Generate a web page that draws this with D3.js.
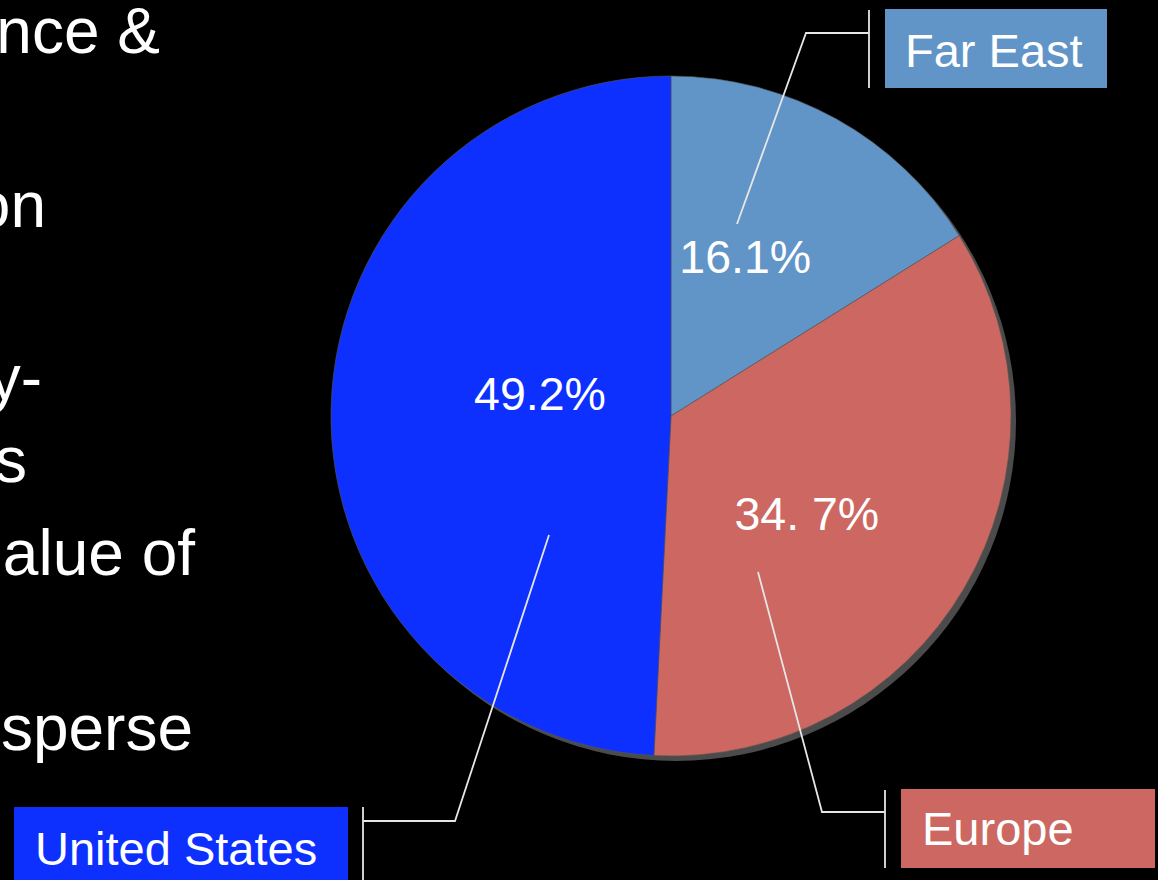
<!DOCTYPE html>
<html>
<head>
<meta charset="utf-8">
<script src="https://cdn.jsdelivr.net/npm/d3@7"></script>
<style>
  html, body { margin: 0; padding: 0; background: #000; overflow: hidden; }
  svg { display: block; }
  text { font-family: "Liberation Sans", Arial, sans-serif; fill: #fff; }
</style>
</head>
<body>
<svg id="chart" width="1158" height="880"></svg>
<script>
// ---- data ----
const categories = ["Far East", "Europe", "United States"];
const values = [16.1, 34.7, 49.2];
const valueLabels = ["16.1%", "34. 7%", "49.2%"];
const colors = ["#6195c7", "#cc6761", "#0d30ff"];
const sideText = ["nce &", "on", "y-", "s", "alue of", "sperse"];

// ---- layout ----
const W = 1158, H = 880;
const cx = 671, cy = 416, R = 340;
const svg = d3.select("#chart");
svg.append("rect").attr("width", W).attr("height", H).attr("fill", "#000");

// slide body text, clipped at the left edge as in the reference
const sideLayout = [
  {x: 160, y: 53}, {x: 46, y: 227}, {x: 42, y: 400},
  {x: 27, y: 482}, {x: 195, y: 575}, {x: 193, y: 750}
];
svg.selectAll("text.side").data(sideText).join("text")
  .attr("class", "side")
  .attr("x", (d, i) => sideLayout[i].x)
  .attr("y", (d, i) => sideLayout[i].y)
  .attr("text-anchor", "end")
  .style("font-size", "64px")
  .text(d => d);

// pie
const pie = d3.pie().sort(null).value(d => d);
const arcs = pie(values);
const arc = d3.arc().innerRadius(0).outerRadius(R);

const g = svg.append("g").attr("transform", `translate(${cx},${cy})`);
// shadow
g.append("circle").attr("cx", 5).attr("cy", 5).attr("r", R).attr("fill", "#4b4b4b");
g.selectAll("path.slice").data(arcs).join("path")
  .attr("class", "slice")
  .attr("d", arc)
  .attr("fill", (d, i) => colors[i])
  .attr("stroke", "#555")
  .attr("stroke-width", 0.6);

// percentage labels (placed relative to each slice's mid angle)
const labelPos = [
  {r: 176, da: -0.07, dy: 17},
  {r: 167, da: 0.09, dy: 17},
  {r: 133, da: 0.15, dy: 17}
];
g.selectAll("text.pct").data(arcs).join("text")
  .attr("class", "pct")
  .attr("text-anchor", "middle")
  .attr("x", (d, i) => {
    const a = (d.startAngle + d.endAngle) / 2 + labelPos[i].da;
    return labelPos[i].r * Math.sin(a);
  })
  .attr("y", (d, i) => {
    const a = (d.startAngle + d.endAngle) / 2 + labelPos[i].da;
    return -labelPos[i].r * Math.cos(a) + labelPos[i].dy;
  })
  .style("font-size", "46.5px")
  .text((d, i) => valueLabels[i]);

// category callout boxes with leader lines
const callouts = [
  {box: [885, 9, 222, 79], tx: 905, ty: 67,
   bracket: [869, 10, 88], leader: [[869, 33], [806, 33], [737, 224]]},
  {box: [901, 789, 254, 79], tx: 922, ty: 845,
   bracket: [885, 790, 868], leader: [[885, 812], [822, 812], [758, 572]]},
  {box: [14, 807, 334, 80], tx: 35, ty: 865,
   bracket: [363, 807, 880], leader: [[363, 821], [455, 821], [549, 535]]}
];
const co = svg.selectAll("g.callout").data(categories).join("g").attr("class", "callout");
co.append("rect")
  .attr("x", (d, i) => callouts[i].box[0])
  .attr("y", (d, i) => callouts[i].box[1])
  .attr("width", (d, i) => callouts[i].box[2])
  .attr("height", (d, i) => callouts[i].box[3])
  .attr("fill", (d, i) => colors[i]);
co.append("text")
  .attr("x", (d, i) => callouts[i].tx)
  .attr("y", (d, i) => callouts[i].ty)
  .style("font-size", "47px")
  .text(d => d);
co.append("line")
  .attr("x1", (d, i) => callouts[i].bracket[0])
  .attr("x2", (d, i) => callouts[i].bracket[0])
  .attr("y1", (d, i) => callouts[i].bracket[1])
  .attr("y2", (d, i) => callouts[i].bracket[2])
  .attr("stroke", "#e6e6e6").attr("stroke-width", 1.8);
co.append("path")
  .attr("d", (d, i) => d3.line()(callouts[i].leader))
  .attr("fill", "none")
  .attr("stroke", "#e6e6e6").attr("stroke-width", 1.8);
</script>
</body>
</html>
